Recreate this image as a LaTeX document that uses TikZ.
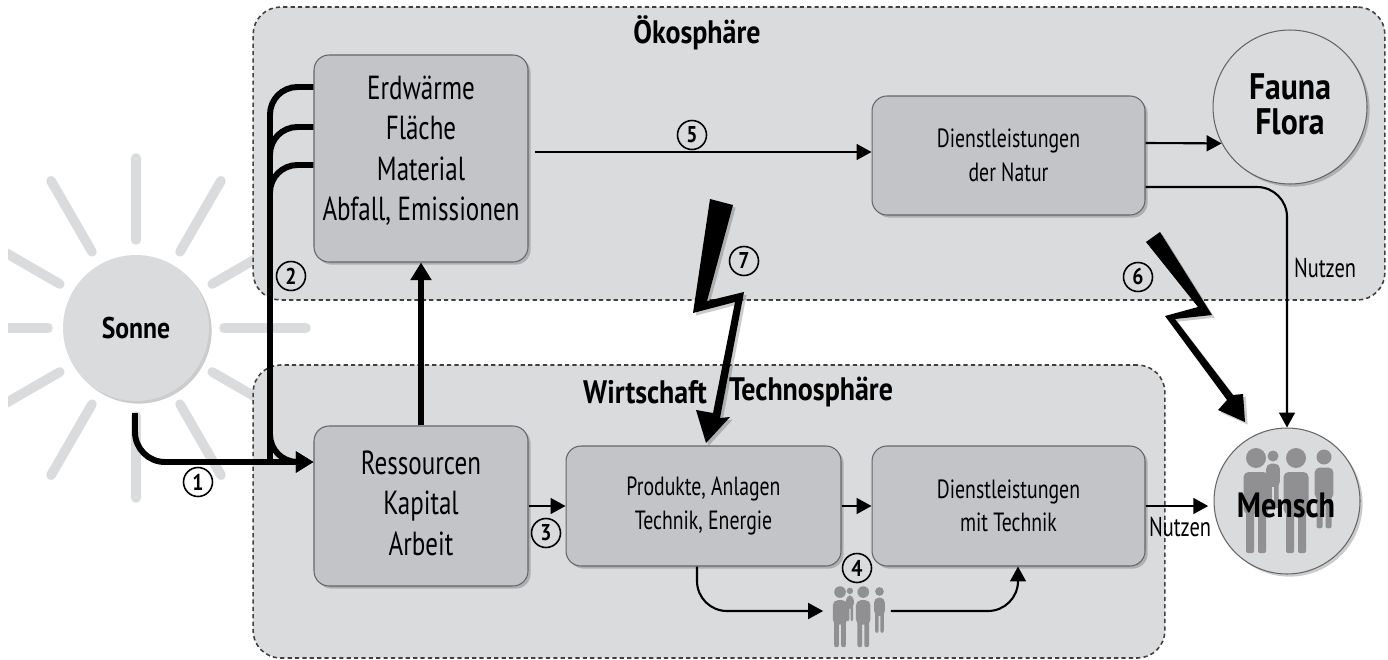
\documentclass[tikz,border=0pt]{standalone}
\usepackage{fontspec}
\setmainfont{PT Sans}[FakeStretch=0.75,BoldFeatures={FakeStretch=0.86}]
\usetikzlibrary{arrows.meta,calc,shadows}
\definecolor{flaeche}{HTML}{DADBDD}
\definecolor{kasten}{HTML}{C3C4C8}
\definecolor{figur}{HTML}{909092}
\tikzset{
  schatten/.style={drop shadow={shadow xshift=1.5pt,shadow yshift=-1.5pt,opacity=.2,fill=black}},
  sphaere/.style={draw=black!75, line width=0.9pt, dash pattern=on 2.4pt off 1.8pt, fill=flaeche, rounded corners=0.55cm, inner sep=0pt},
  kastenbox/.style={draw=black!60, line width=0.6pt, fill=kasten, rounded corners=0.3cm, schatten, align=center, inner sep=0pt},
  kreisbox/.style={circle, draw=black!60, line width=0.6pt, fill=flaeche, schatten, align=center, inner sep=0pt, font=\bfseries},
  nummer/.style={circle, draw, line width=0.9pt, minimum size=0.58cm, inner sep=0pt, font=\bfseries\fontsize{13}{13}\selectfont},
  titel/.style={font=\bfseries\fontsize{18.5}{20}\selectfont, inner sep=0pt},
  dick/.style={line width=3.4pt, -{Triangle[length=10pt,width=11.5pt]}},
  duenn/.style={line width=1.2pt, -{Triangle[length=8.5pt,width=9pt]}},
  blitz/.style={fill=black, schatten},
  mann/.pic={
    \fill[figur] (0,0) circle (10);
    \fill[figur, rounded corners=0.1cm] (-12.5,14) rectangle (12.5,56);
    \fill[figur, rounded corners=0.04cm] (-10,45) rectangle (-2,95);
    \fill[figur, rounded corners=0.04cm] (2,45) rectangle (10,95);
  },
  gruppe/.pic={
    \pic[transform shape, scale=0.55] at (-14,-45) {mann};
    \pic[transform shape] at (-31,-43) {mann};
    \pic[transform shape] at (9,-43) {mann};
    \pic[transform shape, scale=0.75] at (37,-44) {mann};
  }
}
\begin{document}
\begin{tikzpicture}[x=0.02cm,y=-0.02cm]
\useasboundingbox (0,0) rectangle (1388,659);

% Strahlen
\begin{scope}
\clip (8,0) rectangle (1388,659);
\foreach \w in {0,30,...,330} {
  \draw[line width=5.5pt, flaeche, line cap=round] (136,328) ++(\w:88) -- ++(\w:170-88);
}
\end{scope}

% Sphaeren
\node[sphaere, minimum width=22.64cm, minimum height=5.86cm] (oekosphaere) at (819,153.5) {};
\node[sphaere, minimum width=18.24cm, minimum height=5.86cm] (technosphaere) at (709,511.5) {};
\node[titel] (oekotitel) at (697,33) {Ökosphäre};
\node[titel] (wirtschaft) at (645,392) {Wirtschaft};
\node[titel] (techno) at (811,392) {Technosphäre};

% Kaesten
\node[kastenbox, minimum width=4.28cm, minimum height=4.14cm, font=\fontsize{19}{23}\selectfont] (erdwaerme) at (421,158.5) {Erdwärme\\Fläche\\Material\\Abfall, Emissionen\\[-11.4pt]};
\node[kastenbox, minimum width=4.28cm, minimum height=3.2cm, font=\fontsize{19}{23}\selectfont] (ressourcen) at (421,506) {Ressourcen\\Kapital\\Arbeit\\[-19.6pt]};
\node[kastenbox, minimum width=5.5cm, minimum height=2.4cm, font=\fontsize{15}{19}\selectfont] (produkte) at (703.5,506) {Produkte, Anlagen\\Technik, Energie};
\node[kastenbox, minimum width=5.46cm, minimum height=2.4cm, font=\fontsize{15}{19}\selectfont] (technik) at (1008.5,506) {Dienstleistungen\\mit Technik};
\node[kastenbox, minimum width=5.46cm, minimum height=2.38cm, font=\fontsize{15}{19}\selectfont] (natur) at (1008.5,155.5) {Dienstleistungen\\der Natur};

% Kreise
\node[kreisbox, draw=none, minimum size=2.92cm, font=\bfseries\fontsize{17}{20}\selectfont] (sonne) at (136,328) {Sonne};
\node[kreisbox, minimum size=3.08cm, font=\bfseries\fontsize{21}{20}\selectfont] (fauna) at (1290,107) {Fauna\\Flora\\[-17pt]};
\node[kreisbox, minimum size=2.92cm] (menschkreis) at (1287,501) {};
\pic at (1287,501) {gruppe};
\node[font=\bfseries\fontsize{20}{24}\selectfont, inner sep=0pt] (mensch) at (1286,505) {Mensch};

% Gruppe unten
\node[minimum width=1.34cm, minimum height=1.2cm, inner sep=0pt] (volk) at (857,611) {};
\pic[transform shape, scale=0.58] at (858,617) {gruppe};

% Dicke Pfeile
\coordinate (sonneaus) at (135,413);
\coordinate (sammel) at (270,462);
\draw[dick, rounded corners=0.6cm] (sonneaus) |- ($(ressourcen.west)+(0,-44)$);
\foreach \h in {-71.5,-31.5} {
  \draw[line width=3.4pt, rounded corners=0.55cm] ($(erdwaerme.west)+(0,\h)$) -| (sammel);
}
\draw[dick, rounded corners=0.55cm] ($(erdwaerme.west)+(0,6.5)$) -| (sammel) -- ($(ressourcen.west)+(0,-44)$);
\draw[dick] (ressourcen.north) -- (erdwaerme.south);

% Duenne Pfeile
\draw[duenn] ($(erdwaerme.east)+(6,-6.5)$) -- ($(natur.west)+(0,-3.5)$);
\draw[duenn] ($(natur.east)+(0,-12.5)$) -- (fauna.208);
\draw[duenn, rounded corners=0.6cm] ($(natur.east)+(0,31.5)$) -| (menschkreis.north);
\draw[duenn] (ressourcen.east) -- (produkte.west);
\draw[duenn] (produkte.east) -- (technik.west);
\draw[duenn, shorten >=3pt] (technik.east) -- (technik.east -| menschkreis.west);
\draw[duenn, rounded corners=0.6cm] ($(produkte.south)+(-6.5,0)$) |- (volk.west);
\draw[duenn, rounded corners=0.6cm] (volk.east) -| ($(technik.south)+(9.5,0)$);

% Blitze
\path[blitz] (710,199) -- (733,205) -- (707,301) -- (744,292) -- (720,418) -- (730,417) -- (706,443) -- (696,410) -- (713,413) -- (735,302) -- (693,313) -- cycle;
\path[blitz] (1160,232) -- (1212,315) -- (1175,319) -- (1233,395) -- (1243,394) -- (1245,422) -- (1218,410) -- (1227,400) -- (1165,316) -- (1198,307) -- (1146,242) -- cycle;

% Nummern
\node[nummer] (n1) at (198,482) {1};
\node[nummer] (n2) at (291,276) {2};
\node[nummer] (n3) at (546,533) {3};
\node[nummer] (n4) at (857,568) {4};
\node[nummer] (n5) at (692,135) {5};
\node[nummer] (n6) at (1138,277) {6};
\node[nummer] (n7) at (744,261) {7};

% Nutzen
\node[font=\fontsize{15.5}{16}\selectfont, inner sep=0pt] (nutzeneins) at (1325,268) {Nutzen};
\node[font=\fontsize{15.5}{16}\selectfont, inner sep=0pt] (nutzenzwei) at (1180,527) {Nutzen};
\end{tikzpicture}
\end{document}
